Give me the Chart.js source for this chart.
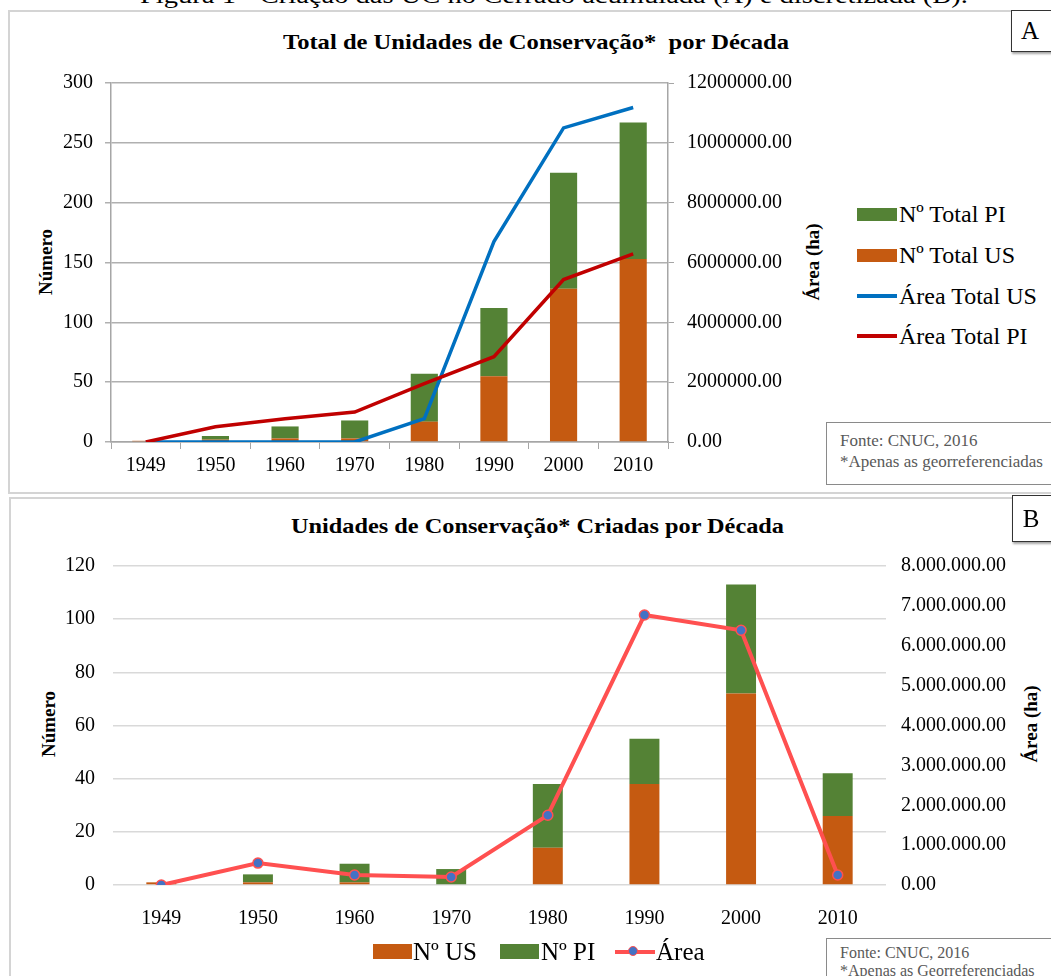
<!DOCTYPE html>
<html>
<head>
<meta charset="utf-8">
<script src="https://cdn.jsdelivr.net/npm/chart.js@4.4.1/dist/chart.umd.min.js"></script>
<style>
html,body{margin:0;padding:0;background:#fff;}
body{width:1051px;height:976px;position:relative;overflow:hidden;font-family:"Liberation Serif","Times New Roman",serif;color:#000;}
.abs{position:absolute;white-space:nowrap;line-height:1;}
.fit{display:inline-block;transform-origin:0 50%;}
.frame{position:absolute;border:2px solid #d4d4d4;box-sizing:border-box;}
.tag{position:absolute;border:1.5px solid #333;background:#fff;box-shadow:1px 2px 2px rgba(0,0,0,0.35);font-size:25px;text-align:center;box-sizing:border-box;}
.rot{position:absolute;transform:translate(-50%,-50%) rotate(-90deg);font-weight:bold;font-size:19px;white-space:nowrap;line-height:1;}
.sw{position:absolute;}
.leg{position:absolute;white-space:nowrap;line-height:1;}
.note{position:absolute;border:1.5px solid #8a8a8a;background:#fff;box-sizing:border-box;color:#595959;font-size:17px;line-height:21px;padding:7px 0 0 13px;white-space:nowrap;}
canvas{position:absolute;}
</style>
</head>
<body>

<div class="abs" style="left:140px;top:-17px;font-size:24px;"><span class="fit" data-w="828">Figura 1 - Criação das UC no Cerrado acumulada (A) e discretizada (B).</span></div>

<!-- Chart A frame -->
<div class="frame" style="left:8px;top:10px;width:1060px;height:484px;"></div>
<div class="tag" style="left:1011px;top:10px;width:50px;height:42px;line-height:40px;"><span style="margin-left:-12px">A</span></div>
<div class="abs" style="left:283px;top:31px;font-size:22px;font-weight:bold;"><span class="fit" data-w="506">Total de Unidades de Conservação*&nbsp; por Década</span></div>
<div class="rot" style="left:45px;top:262px;">Número</div>
<div class="rot" style="left:812px;top:262px;">Área (ha)</div>
<canvas id="cA" width="820" height="432" style="left:0;top:58px;"></canvas>

<!-- Legend A -->
<div class="sw" style="left:857px;top:208px;width:40px;height:13px;background:#548235;"></div>
<div class="leg" style="left:899px;top:202px;font-size:24px;">Nº Total PI</div>
<div class="sw" style="left:857px;top:249px;width:40px;height:13px;background:#C55A11;"></div>
<div class="leg" style="left:899px;top:243px;font-size:24px;">Nº Total US</div>
<div class="sw" style="left:857px;top:294px;width:40px;height:3.5px;background:#0070C0;"></div>
<div class="leg" style="left:899px;top:284px;font-size:24px;">Área Total US</div>
<div class="sw" style="left:857px;top:334px;width:40px;height:3.5px;background:#C00000;"></div>
<div class="leg" style="left:899px;top:324px;font-size:24px;">Área Total PI</div>

<div class="note" style="left:826px;top:422px;width:240px;height:63px;">Fonte: CNUC, 2016<br>*Apenas as georreferenciadas</div>

<!-- Chart B frame -->
<div class="frame" style="left:9px;top:497px;width:1060px;height:500px;"></div>
<div class="abs" style="left:291px;top:515px;font-size:22px;font-weight:bold;"><span class="fit" data-w="493">Unidades de Conservação* Criadas por Década</span></div>
<div class="rot" style="left:48px;top:724px;">Número</div>
<div class="rot" style="left:1030px;top:724px;">Área (ha)</div>
<canvas id="cB" width="1051" height="404" style="left:0;top:536px;"></canvas>
<div class="tag" style="left:1012px;top:495px;width:50px;height:47px;line-height:45px;"><span style="margin-left:-12px">B</span></div>

<!-- Legend B -->
<div class="sw" style="left:373px;top:944px;width:39px;height:15px;background:#C55A11;"></div>
<div class="leg" style="left:413px;top:939px;font-size:25px;">Nº US</div>
<div class="sw" style="left:500px;top:944px;width:39px;height:15px;background:#548235;"></div>
<div class="leg" style="left:541px;top:939px;font-size:25px;">Nº PI</div>
<div class="sw" style="left:615px;top:950px;width:40px;height:3.5px;background:#FF5050;"></div>
<div class="sw" style="left:628px;top:946px;width:10px;height:10px;border-radius:50%;background:#4472C4;border:1.5px solid #FF5050;box-sizing:border-box;"></div>
<div class="leg" style="left:656px;top:939px;font-size:25px;">Área</div>

<div class="note" style="left:826px;top:938px;width:240px;height:60px;font-size:16px;line-height:18px;padding:5px 0 0 13px;">Fonte: CNUC, 2016<br>*Apenas as Georreferenciadas</div>

<script>
// ---- Data ----
const categories = ['1949','1950','1960','1970','1980','1990','2000','2010'];

// Chart A: accumulated totals
const totalUS = [1, 2, 3, 3, 17, 55, 128, 153];
const totalPI = [0, 3, 10, 15, 40, 57, 97, 114];
const areaTotalUS = [0, 0, 0, 0, 780000, 6700000, 10500000, 11180000];
const areaTotalPI = [0, 510000, 780000, 1000000, 1950000, 2850000, 5430000, 6290000];

// Chart B: created per decade
const nUS = [1, 1, 1, 0, 14, 38, 72, 26];
const nPI = [0, 3, 7, 6, 24, 17, 41, 16];
const areaB = [0, 550000, 250000, 200000, 1750000, 6770000, 6390000, 250000];

// ---- Fit titles ----
document.querySelectorAll('.fit').forEach(el => {
  const w = el.getBoundingClientRect().width;
  const t = parseFloat(el.dataset.w);
  el.style.transform = 'scaleX(' + (t / w) + ')';
});

Chart.defaults.font.family = '"Liberation Serif","Times New Roman",serif';
Chart.defaults.color = '#000';

const ORANGE = '#C55A11', GREEN = '#548235';

function dotFmt(v){
  return Math.round(v).toString().replace(/\B(?=(\d{3})+(?!\d))/g, '.') + '.00';
}

// ---- Chart A ----
new Chart(document.getElementById('cA'), {
  type: 'bar',
  data: {
    labels: categories,
    datasets: [
      {type:'line', label:'Área Total PI', data: areaTotalPI, yAxisID:'y1', borderColor:'#C00000', backgroundColor:'#C00000', borderWidth:3.5, pointRadius:0, tension:0, order:0},
      {type:'line', label:'Área Total US', data: areaTotalUS, yAxisID:'y1', borderColor:'#0070C0', backgroundColor:'#0070C0', borderWidth:3.5, pointRadius:0, tension:0, order:1},
      {label:'Nº Total US', data: totalUS, backgroundColor: ORANGE, stack:'s', yAxisID:'y', order:5, barPercentage:0.39, categoryPercentage:1},
      {label:'Nº Total PI', data: totalPI, backgroundColor: GREEN, stack:'s', yAxisID:'y', order:5, barPercentage:0.39, categoryPercentage:1}
    ]
  },
  options: {
    responsive:false, animation:false,
    layout:{padding:{top:20,left:0,right:0,bottom:0}},
    plugins:{legend:{display:false}, tooltip:{enabled:false}},
    scales:{
      x:{stacked:true, offset:true,
         grid:{drawOnChartArea:false, drawTicks:true, tickLength:7, color:'#a6a6a6', offset:true},
         border:{color:'#a6a6a6', width:1.5},
         ticks:{font:{size:20}, padding:5, maxRotation:0},
         afterFit:s=>{s.height=48;}},
      y:{stacked:true, position:'left', min:0, max:300,
         grid:{color:'#b0b0b0', lineWidth:1.5, tickLength:6, drawTicks:true},
         border:{color:'#a6a6a6', width:1.5},
         ticks:{stepSize:50, font:{size:20}, padding:12},
         afterFit:s=>{s.width=111;}},
      y1:{position:'right', min:0, max:12000000,
         grid:{drawOnChartArea:false, tickLength:6, color:'#a6a6a6'},
         border:{color:'#a6a6a6', width:1.5},
         ticks:{stepSize:2000000, font:{size:20}, padding:13, callback:v=>Number(v).toFixed(2)},
         afterFit:s=>{s.width=152;}}
    }
  }
});

// ---- Chart B ----
new Chart(document.getElementById('cB'), {
  type: 'bar',
  data: {
    labels: categories,
    datasets: [
      {type:'line', label:'Área', data: areaB, yAxisID:'y1', borderColor:'#FF5050', borderWidth:4, tension:0,
       pointRadius:5, pointBackgroundColor:'#4472C4', pointBorderColor:'#FF5050', pointBorderWidth:1.5, order:0},
      {label:'Nº US', data: nUS, backgroundColor: ORANGE, stack:'s', yAxisID:'y', order:5, barPercentage:0.31, categoryPercentage:1},
      {label:'Nº PI', data: nPI, backgroundColor: GREEN, stack:'s', yAxisID:'y', order:5, barPercentage:0.31, categoryPercentage:1}
    ]
  },
  options: {
    responsive:false, animation:false,
    layout:{padding:{top:21,left:0,right:0,bottom:0}},
    plugins:{legend:{display:false}, tooltip:{enabled:false}},
    scales:{
      x:{stacked:true, offset:true,
         grid:{display:false},
         border:{display:false},
         ticks:{font:{size:20}, padding:14, maxRotation:0},
         afterFit:s=>{s.height=55;}},
      y:{stacked:true, position:'left', min:0, max:120,
         grid:{color:'#d9d9d9', lineWidth:1.5, drawTicks:false},
         border:{display:false},
         ticks:{stepSize:20, font:{size:20}, padding:18},
         afterFit:s=>{s.width=113;}},
      y1:{position:'right', min:0, max:8000000,
         grid:{drawOnChartArea:false, drawTicks:false},
         border:{display:false},
         ticks:{stepSize:1000000, font:{size:20}, padding:15, callback:v=>dotFmt(v)},
         afterFit:s=>{s.width=165;}}
    }
  }
});
</script>
</body>
</html>
